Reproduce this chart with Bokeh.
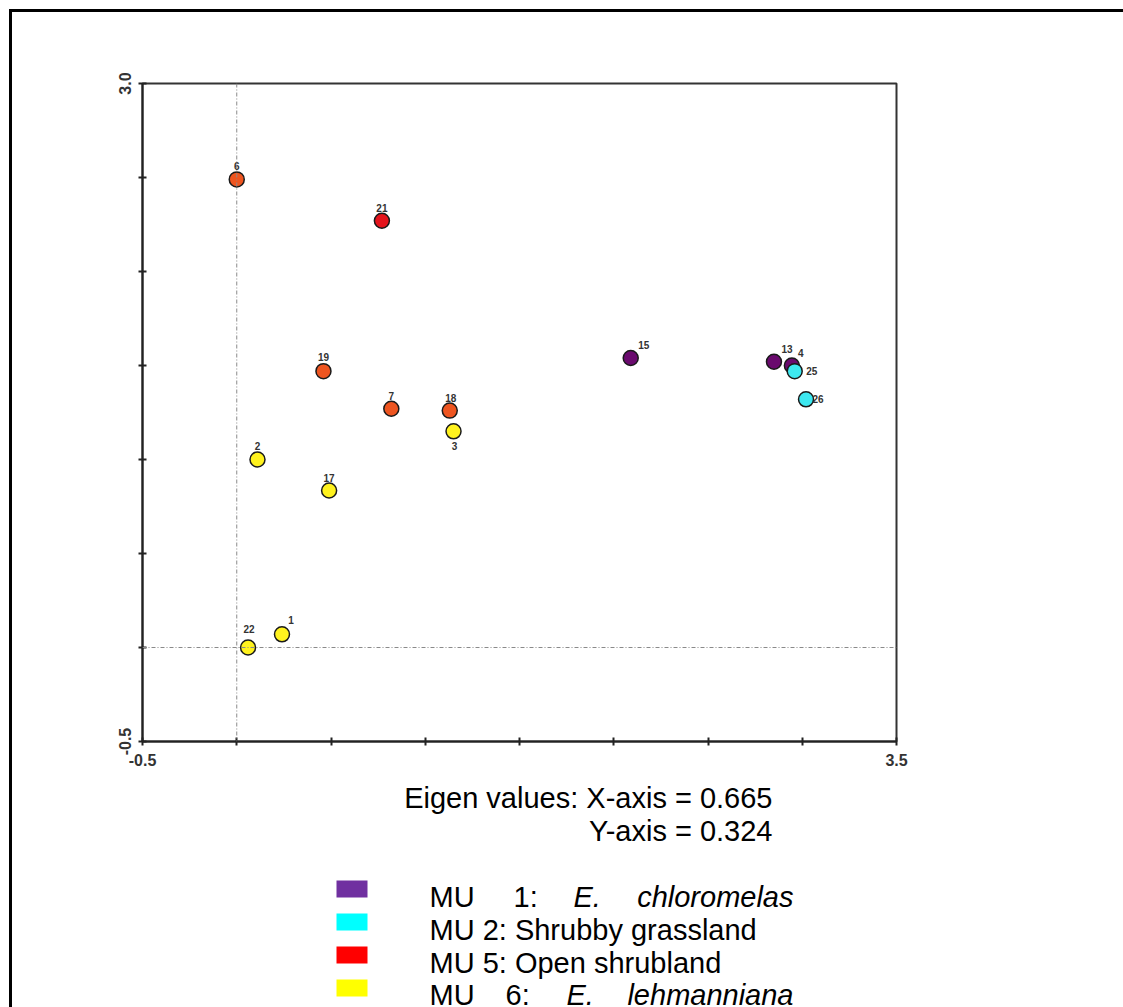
from bokeh.plotting import figure
from bokeh.layouts import column
from bokeh.models import Range1d, FixedTicker, Span, ColumnDataSource
from bokeh.core.properties import value
from bokeh.embed import file_html
from bokeh.resources import INLINE

# ---- data ----
site = ["6", "21", "19", "7", "18", "3", "2", "17", "22", "1", "15", "13", "4", "25", "26"]
axis1 = [0.00, 0.77, 0.46, 0.82, 1.13, 1.15, 0.11, 0.49, 0.06, 0.24, 2.09, 2.85, 2.945, 2.96, 3.02]
axis2 = [2.49, 2.27, 1.47, 1.27, 1.26, 1.15, 1.00, 0.835, 0.00, 0.07, 1.54, 1.52, 1.50, 1.47, 1.32]
group = ["MU5", "MU5r", "MU5", "MU5", "MU5", "MU6", "MU6", "MU6", "MU6", "MU6",
         "MU1", "MU1", "MU1", "MU2", "MU2"]

x_ticks = [-0.5, 0.0, 0.5, 1.0, 1.5, 2.0, 2.5, 3.0, 3.5]
y_ticks = [-0.5, 0.0, 0.5, 1.0, 1.5, 2.0, 2.5, 3.0]
x_tick_labels = {-0.5: "-0.5", 3.5: "3.5"}
y_tick_labels = {-0.5: "-0.5", 3.0: "3.0"}

eigen_lines = ["Eigen values: X-axis = 0.665", "Y-axis = 0.324"]
legend_entries = ["MU 1: E. chloromelas", "MU 2: Shrubby grassland",
                  "MU 5: Open shrubland", "MU 6: E. lehmanniana"]

# ---- styles ----
point_colors = {"MU1": "#6A0A6E", "MU2": "#3DE8F0", "MU5": "#EE5520",
                "MU5r": "#E4141C", "MU6": "#FFF21E"}
legend_colors = ["#7030A0", "#00FFFF", "#FF0000", "#FFFF00"]
label_dx = [0, 0, 0, 0, 1, 1, 0, 0, 1, 9, 13, 13, 9, 17, 12]
label_dy = [-13, -13, -14, -13, -13, 15, -14, -13, -19, -14, -13, -13, -13, 0, 0]

W, H = 1123, 1007
OFF = 12            # page offset of the content (9px margin + 3px border)
PLOT_BOTTOM = 775   # page y where the plot block ends
FX0, FX1 = 142, 896 # page x of the plot frame (shared by both blocks)

# ---- main ordination plot (page x 12..1123, y 12..775) ----
PW, PH = W - OFF, PLOT_BOTTOM - OFF
p = figure(width=PW, height=PH, x_range=Range1d(-0.5, 3.5), y_range=Range1d(-0.5, 3.0),
           output_backend="svg", toolbar_location=None,
           min_border_left=FX0 - OFF, min_border_right=W - FX1,
           min_border_top=83 - OFF, min_border_bottom=PLOT_BOTTOM - 741)
p.grid.visible = False
p.outline_line_color = "#333333"
p.outline_line_width = 2

for ax, ticks, labels in ((p.xaxis[0], x_ticks, x_tick_labels), (p.yaxis[0], y_ticks, y_tick_labels)):
    ax.ticker = FixedTicker(ticks=ticks)
    ax.major_label_overrides = {t: labels.get(t, "") for t in ticks}
    ax.axis_line_color = "#222222"
    ax.axis_line_width = 2
    ax.major_tick_line_color = "#222222"
    ax.major_tick_line_width = 2
    ax.major_tick_in = 4
    ax.major_tick_out = 4
    ax.minor_tick_line_color = None
    ax.major_label_text_font = "Liberation Sans"
    ax.major_label_text_font_style = "bold"
    ax.major_label_text_font_size = "16px"
    ax.major_label_text_color = "#333333"
    ax.major_label_standoff = 8
p.yaxis[0].major_label_orientation = "vertical"

for dim in ("height", "width"):
    p.add_layout(Span(location=0, dimension=dim, line_color="#8a8a8a",
                      line_width=1, line_dash="4 2 1 2"))

src = ColumnDataSource(dict(
    x=axis1, y=axis2, site=site,
    color=[point_colors[g] for g in group],
    dx=label_dx, dy=label_dy,
))
p.scatter("x", "y", source=src, size=15, fill_color="color",
          line_color="#1a1a1a", line_width=1.5)
p.text("x", "y", text="site", source=src, x_offset="dx", y_offset="dy",
       text_font=value("Liberation Sans"), text_font_style="bold",
       text_font_size="10px", text_color="#333333",
       text_align="center", text_baseline="middle")

# ---- bottom block: eigenvalues + legend (page y 775..H) ----
# its frame is aligned with the plot frame above, so its x range is in page px
b = figure(width=PW, height=H - PLOT_BOTTOM, x_range=Range1d(FX0, FX1),
           y_range=Range1d(H, PLOT_BOTTOM), output_backend="svg",
           toolbar_location=None, x_axis_location=None, y_axis_location=None,
           min_border_left=FX0 - OFF, min_border_right=W - FX1,
           min_border_top=0, min_border_bottom=0, outline_line_color=None)
b.grid.visible = False

FONT = value("Liberation Sans")
FS = "29px"
SHIFT = -12  # rendered baseline sits ~12px below the anchor


def words(texts, xs, ys, align="left", style="normal"):
    b.text(x=xs, y=[y + SHIFT for y in ys], text=texts, text_font=FONT,
           text_font_size=FS, text_font_style=style, text_color="black",
           text_align=align, text_baseline="alphabetic")


# eigenvalues (right-aligned pair)
words(eigen_lines, [772, 772], [809, 842], align="right")

# legend keys
sw_top = [880, 913, 946, 979]
b.quad(left=[336] * 4, right=[367] * 4, top=sw_top, bottom=[t + 17 for t in sw_top],
       fill_color=legend_colors, line_color=None)

baselines = [908, 941, 974, 1006]
w1 = legend_entries[0].split(" ")
w4 = legend_entries[3].split(" ")
# justified lines 1 and 4
words([w1[0], w1[1], w4[0], w4[1]], [429, 513, 429, 505],
      [baselines[0], baselines[0], baselines[3], baselines[3]])
words([w1[2], w4[2]], [573, 566], [baselines[0], baselines[3]], style="italic")
words([w1[3], w4[3]], [793, 793], [baselines[0], baselines[3]], align="right", style="italic")
# lines 2 and 3
words([legend_entries[1], legend_entries[2]], [429, 429], [baselines[1], baselines[2]])

# outer picture frame: only its top and left edges are visible in the crop
layout = column(p, b, margin=(9, 0, 0, 9),
                styles={"border-top": "3px solid black", "border-left": "3px solid black"})
open("out.html", "w").write(file_html(layout, INLINE))
